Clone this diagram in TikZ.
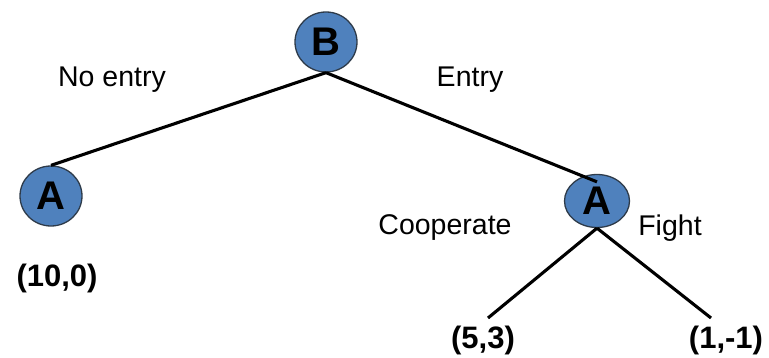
\documentclass[tikz,border=0pt]{standalone}
\usepackage{fontspec}
\setmainfont{Liberation Sans}
\usetikzlibrary{shapes.geometric}
\definecolor{nodeblue}{HTML}{4F81BD}
\definecolor{rimgray}{HTML}{2E3B4A}
\begin{document}
\begin{tikzpicture}[x=1pt,y=-1pt,
  player/.style={ellipse,draw=rimgray,line width=1.3pt,fill=nodeblue,inner sep=0pt,
    minimum width=62pt,minimum height=60pt,font=\fontsize{40}{40}\selectfont},
  move/.style={font=\fontsize{28.5}{30}\selectfont,inner sep=0pt},
  payoff/.style={font=\fontsize{31}{33}\selectfont\bfseries,inner sep=0pt},
  branch/.style={line width=3.1pt,black}]
\useasboundingbox (0,0) rectangle (769,358);

% decision nodes
\node[player] (B) at (326,42) {\textbf{B}};
\node[player] (A1) at (51,196) {\textbf{A}};
\node[player,minimum width=65pt,minimum height=53pt] (A2) at (597,201) {\textbf{A}};

% move labels
\node[move] (noentry) at (112,80) {No entry};
\node[move] (entry) at (470,80) {Entry};
\node[move] (coop) at (445,228) {Cooperate};
\node[move] (fight) at (670,228) {Fight};

% payoffs
\node[payoff] (p1) at (57,278) {(10,0)};
\node[payoff] (p2) at (483,340) {(5,3)};
\node[payoff] (p3) at (726,340) {(1,-1)};

% ends of the second-stage branches
\coordinate (c2) at (488,318);
\coordinate (c3) at (711,318);

% branches
\draw[branch] (B.south) -- (A1.north);
\draw[branch] (B.south) -- ([yshift=-8pt]A2.north);
\draw[branch] (A2.south) -- (c2);
\draw[branch] (A2.south) -- (c3);
\end{tikzpicture}
\end{document}
